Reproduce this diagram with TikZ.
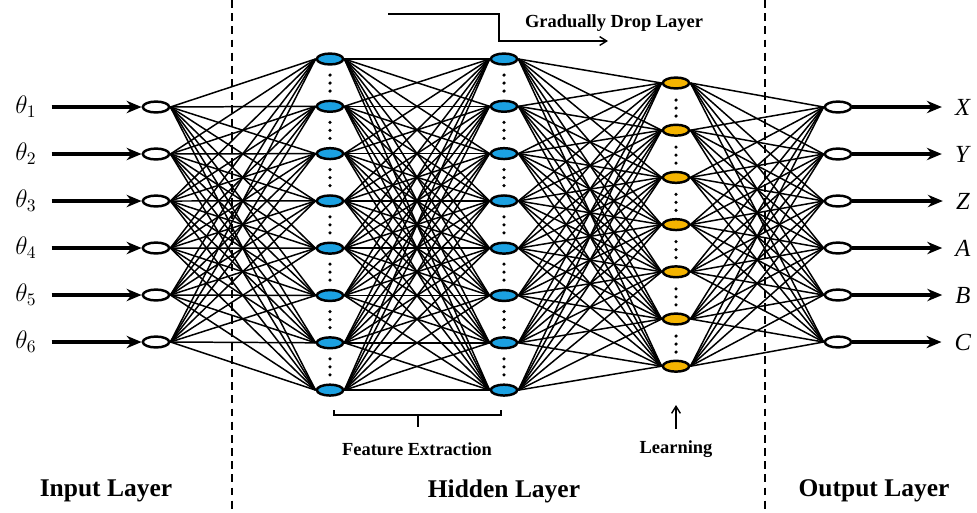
\documentclass[tikz,border=0pt]{standalone}
\usepackage{fontspec}
\setmainfont{Liberation Serif}
\usetikzlibrary{positioning,arrows.meta,calc,shapes.geometric}
\definecolor{cHid}{HTML}{1BA1E2}
\definecolor{cLrn}{HTML}{F5B400}
\tikzset{
  neuron/.style={ellipse,draw,line width=1.4pt,minimum width=15pt,minimum height=6.2pt,inner sep=0pt},
  inode/.style={neuron,fill=white}, hnode/.style={neuron,fill=cHid}, lnode/.style={neuron,fill=cLrn},
  link/.style={line width=0.85pt},
  ioarr/.style={-{Stealth[length=8.5pt,width=7pt]},line width=2pt},
  thinarr/.style={-{Straight Barb[length=4pt,width=5pt]},line width=0.8pt},
  divider/.style={dash pattern=on 4.5pt off 3pt,line width=0.9pt},
  lbl/.style={font=\fontsize{10.5}{12}\selectfont\bfseries},
  ttl/.style={font=\fontsize{14.5}{17}\selectfont\bfseries},
  var/.style={font=\fontsize{14}{16}\selectfont}}

\begin{document}
\begin{tikzpicture}[x=0.02cm,y=-0.02cm]
\useasboundingbox (0,0) rectangle (977,512);
% layers
\foreach \i in {1,...,6} {
  \node[inode] (in\i)  at (156,{107+47*(\i-1)}) {};
  \node[inode] (out\i) at (838,{107+47*(\i-1)}) {};
}
\foreach \i in {1,...,8} {
  \node[hnode] (fa\i) at (330,{59+47.3*(\i-1)}) {};
  \node[hnode] (fb\i) at (504,{59+47.3*(\i-1)}) {};
}
\foreach \i in {1,...,7}
  \node[lnode] (lr\i) at (676,{83+47.2*(\i-1)}) {};
% connections
\foreach \a in {1,...,6} \foreach \b in {1,...,8} \draw[link] (in\a.east) -- (fa\b.west);
\foreach \a in {1,...,8} \foreach \b in {1,...,8} \draw[link] (fa\a.east) -- (fb\b.west);
\foreach \a in {1,...,8} \foreach \b in {1,...,7} \draw[link] (fb\a.east) -- (lr\b.west);
\foreach \a in {1,...,7} \foreach \b in {1,...,6} \draw[link] (lr\a.east) -- (out\b.west);
% vertical dots
\foreach \k in {1,...,7} \foreach \d in {16,24,32} {
  \fill (330,{59+47.3*(\k-1)+\d}) circle (1pt);
  \fill (504,{59+47.3*(\k-1)+\d}) circle (1pt);
}
\foreach \k in {1,...,6} \foreach \d in {17,25,33}
  \fill (676,{83+47.2*(\k-1)+\d}) circle (1pt);
% inputs and outputs
\foreach \i/\t in {1/1,2/2,3/3,4/4,5/5,6/6} {
  \node[var] (th\i) at (26,{107+47*(\i-1)}) {$\theta_{\t}$};
  \draw[ioarr,shorten <=5pt] (th\i.east) -- (in\i.west);
}
\foreach \i/\t in {1/X,2/Y,3/Z,4/A,5/B,6/C} {
  \node[var] (res\i) at (963,{107+47*(\i-1)}) {\textit{\t}};
  \draw[ioarr,shorten >=4pt] (out\i.east) -- (res\i.west);
}
% dividers
\draw[divider] (232,0) -- (232,512);
\draw[divider] (765,0) -- (765,512);
% annotations
\coordinate (gs) at (388,14); \coordinate (gc) at (499,41); \coordinate (ge) at (608,41);
\draw[thinarr] (gs) -| (gc) -- (ge);
\node[lbl] (gdl) at (614,23) {Gradually Drop Layer};
\coordinate (bl) at (334,410); \coordinate (br) at (501,410); \coordinate (bm) at (418,415);
\draw[link] (bl) |- (br |- bm) -- (br);
\draw[link] (bm) -- ++(0,12);
\node[lbl] (fex) at (417,449) {Feature Extraction};
\coordinate (la) at (676,429); \coordinate (lb) at (676,405);
\draw[thinarr] (la) -- (lb);
\node[lbl] (lrn) at (676,449) {Learning};
\node[ttl] (tin)  at (106,491) {Input Layer};
\node[ttl] (thid) at (504,491) {Hidden Layer};
\node[ttl] (tout) at (874,491) {Output Layer};
\end{tikzpicture}
\end{document}
